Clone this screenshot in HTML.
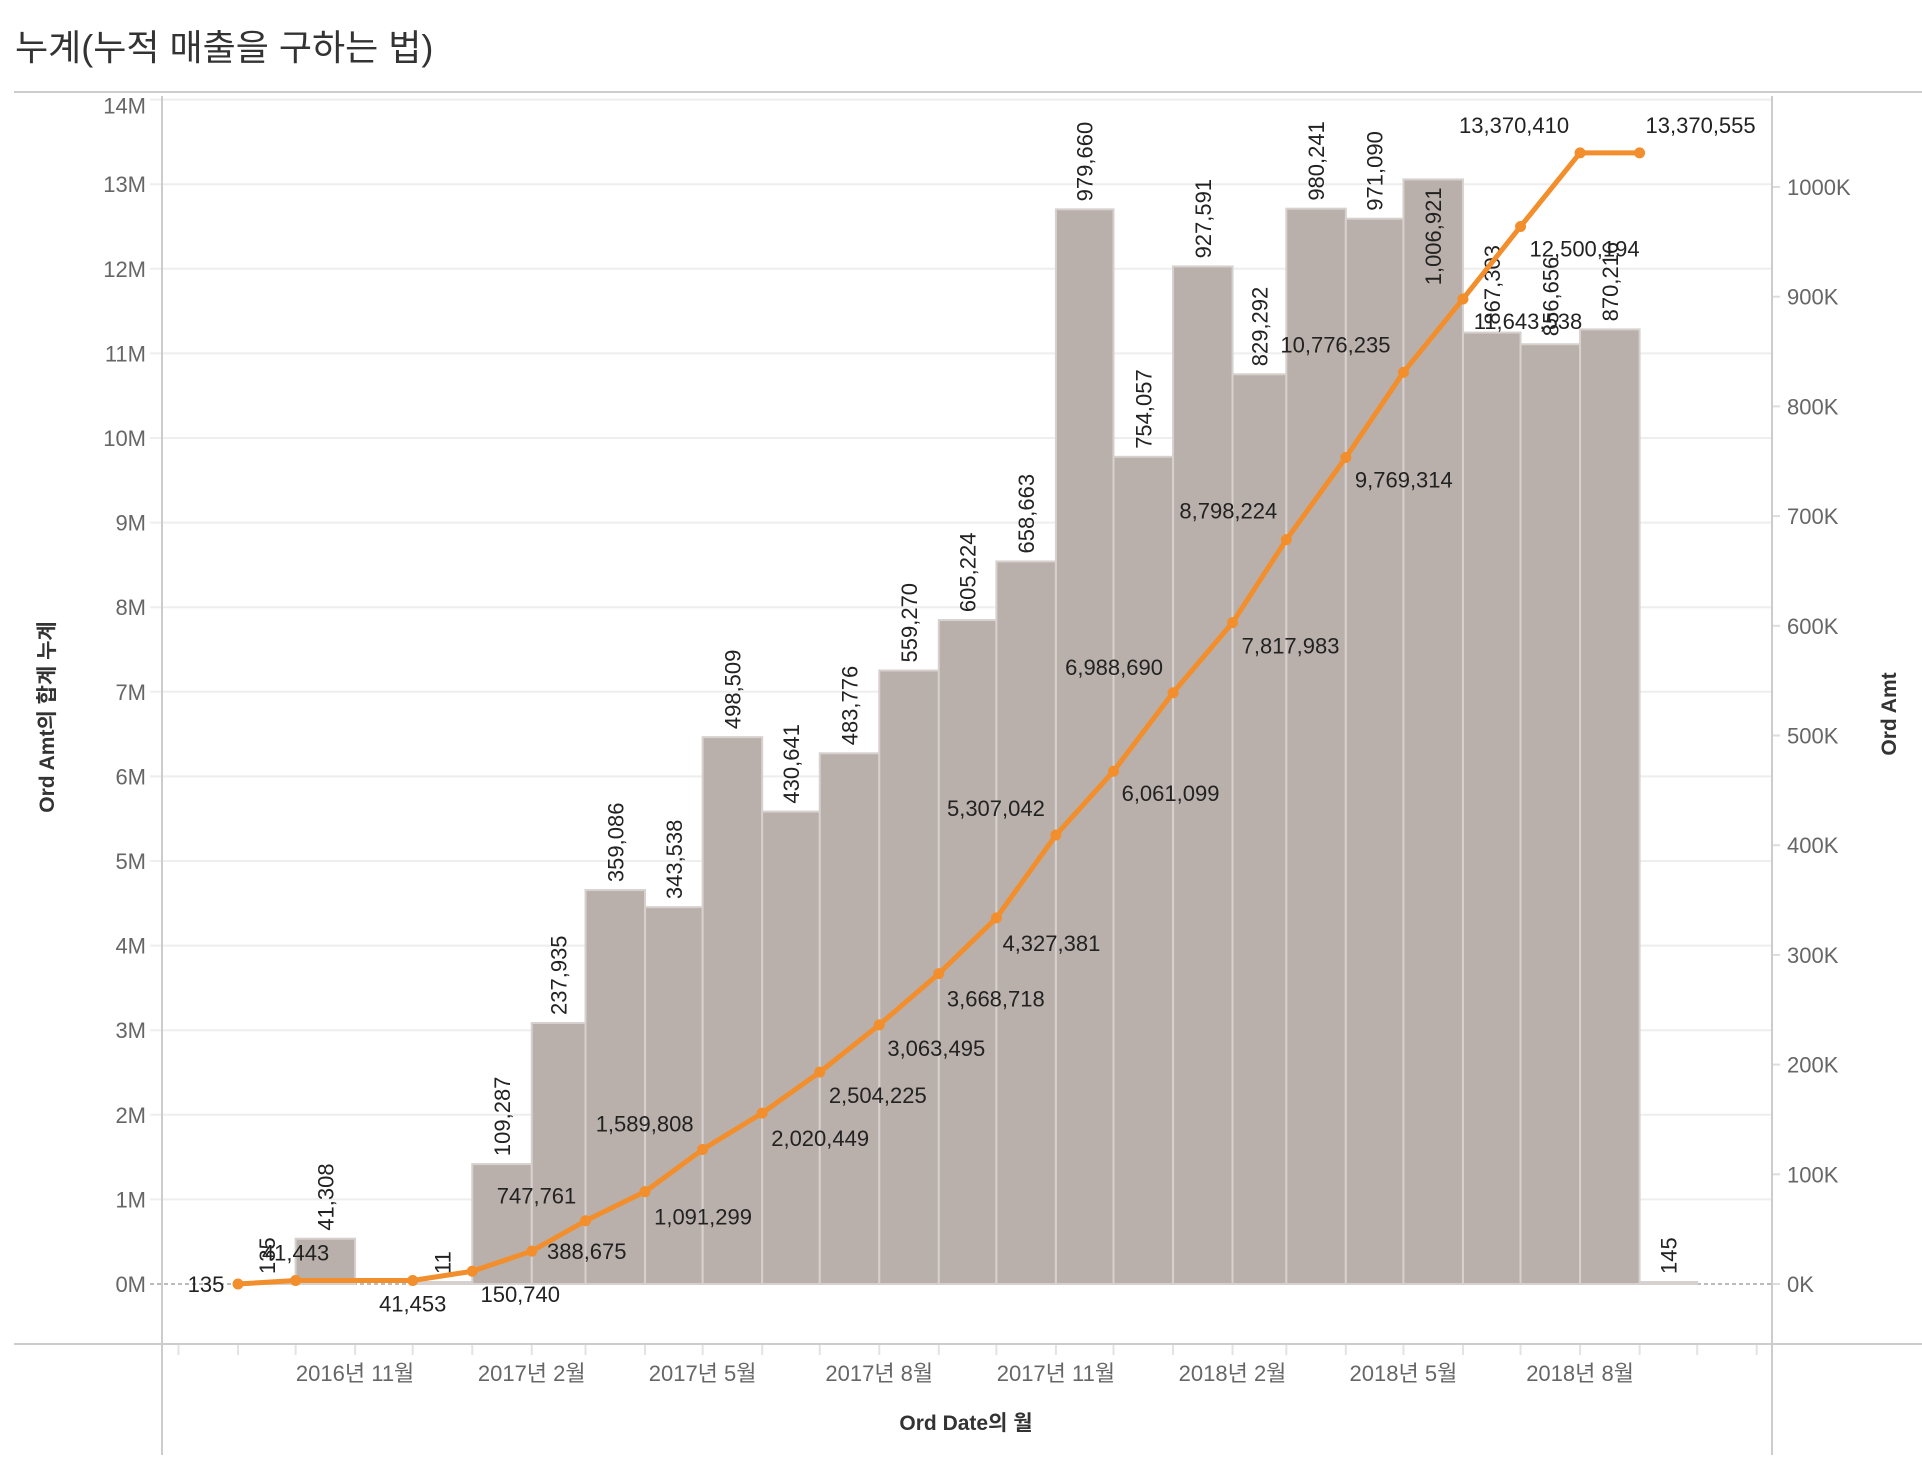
<!DOCTYPE html>
<html><head><meta charset="utf-8"><style>
html,body{margin:0;padding:0;background:#fff;width:1922px;height:1464px;overflow:hidden}
svg{display:block}
text{font-family:"Liberation Sans","Noto Sans CJK KR",sans-serif}
</style></head><body>
<svg id="chart" width="1922" height="1464" viewBox="0 0 1922 1464">
<text x="15" y="60" font-size="36" fill="#333">누계(누적 매출을 구하는 법)</text>
<line x1="14" y1="92" x2="1922" y2="92" stroke="#ccc" stroke-width="2"/>
<g id="grid"></g><g id="bars"></g><g id="barlabels"></g><g id="line"></g><g id="linelabels"></g><g id="axes"></g>
</svg>
<script>
const months = ["2016-09","2016-10","2016-12","2017-01","2017-02","2017-03","2017-04","2017-05","2017-06","2017-07","2017-08","2017-09","2017-10","2017-11","2017-12","2018-01","2018-02","2018-03","2018-04","2018-05","2018-06","2018-07","2018-08","2018-09"];
const ordAmt = [135,41308,11,109287,237935,359086,343538,498509,430641,483776,559270,605224,658663,979660,754057,927591,829292,980241,971090,1006921,867303,856656,870216,145];
const cumLabels = ["135","41,443","41,453","150,740","388,675","747,761","1,091,299","1,589,808","2,020,449","2,504,225","3,063,495","3,668,718","4,327,381","5,307,042","6,061,099","6,988,690","7,817,983","8,798,224","9,769,314","10,776,235","11,643,538","12,500,194","13,370,410","13,370,555"];
const leftTicks = [0,1,2,3,4,5,6,7,8,9,10,11,12,13,14];
const rightTicks = [0,100,200,300,400,500,600,700,800,900,1000];
const xTickLabels = [["2016-11","2016년 11월"],["2017-02","2017년 2월"],["2017-05","2017년 5월"],["2017-08","2017년 8월"],["2017-11","2017년 11월"],["2018-02","2018년 2월"],["2018-05","2018년 5월"],["2018-08","2018년 8월"]];
// label offsets (style)
const lblDx = [-32,0,0,48,55,-49,58,-58,58,58,57,57,55,-60,57,-59,58,-58,58,-68,65,64,-66,61];
const lblDy = [0,-28,23,23,0,-25,25,-26,25,23,23,25,25,-27,22,-26,23,-29,22,-28,22,22,-28,-28];

const NS="http://www.w3.org/2000/svg";
function mk(tag,attrs,parent){const e=document.createElementNS(NS,tag);for(const k in attrs)e.setAttribute(k,attrs[k]);parent.appendChild(e);return e;}
const X0=162,X1=1772,YB=1284;
const base=Date.UTC(2016,8,1);
function xDate(y,m){return 238+(Date.UTC(y,m,1)-base)/86400000*1.92;}
function xM(s){const [y,m]=s.split("-").map(Number);return xDate(y,m-1);}
function xNext(s){const [y,m]=s.split("-").map(Number);return xDate(y,m);}
function yL(v){return YB-v*84.6/1e6;}
function yR(v){return YB-v*1.097/1000;}
const G=id=>document.getElementById(id);

leftTicks.forEach(t=>{
  const y=yL(t*1e6);
  const l=mk("line",{x1:150,x2:X1,y1:y,y2:y,stroke:t===0?"#bbb":"#eeeeee","stroke-width":2},G("grid"));
  if(t===0)l.setAttribute("stroke-dasharray","4,3");
  
  
  const tx=mk("text",{x:146,y:(t===14?y+14:y+8),"text-anchor":"end","font-size":22,fill:"#666"},G("axes"));
  tx.textContent=t+"M";
  
  
});
rightTicks.forEach(t=>{
  const y=yR(t*1000);
  mk("line",{x1:X1,x2:X1+8,y1:y,y2:y,stroke:"#ddd","stroke-width":2},G("axes"));
  const tx=mk("text",{x:1787,y:y+8,"font-size":22,fill:"#666"},G("axes"));
  tx.textContent=t+"K";
  
  
});
mk("line",{x1:X0,x2:X0,y1:96,y2:1455,stroke:"#ccc","stroke-width":2},G("axes"));
mk("line",{x1:X1,x2:X1,y1:96,y2:1455,stroke:"#ccc","stroke-width":2},G("axes"));
mk("line",{x1:14,x2:1922,y1:1344,y2:1344,stroke:"#ccc","stroke-width":2},G("axes"));
for(let i=-1;i<27;i++){const x=xDate(2016,8+i);mk("line",{x1:x,x2:x,y1:1345,y2:1355,stroke:"#e3e3e3","stroke-width":2},G("axes"));}
xTickLabels.forEach(d=>{
  const tx=mk("text",{x:xM(d[0]),y:1381,"text-anchor":"middle","font-size":22,fill:"#666"},G("axes"));
  tx.textContent=d[1];
  
  
});
let t=mk("text",{x:966,y:1430,"text-anchor":"middle","font-size":21,"font-weight":"bold",fill:"#333"},G("axes"));t.textContent="Ord Date의 월";


t=mk("text",{x:0,y:0,"text-anchor":"middle","font-size":21,"font-weight":"bold",fill:"#333",transform:"translate(54,717) rotate(-90)"},G("axes"));t.textContent="Ord Amt의 합계 누계";


t=mk("text",{x:0,y:0,"text-anchor":"middle","font-size":21,"font-weight":"bold",fill:"#333",transform:"translate(1896,714) rotate(-90)"},G("axes"));t.textContent="Ord Amt";



months.forEach((m,i)=>{
  const x0=xM(m),x1=xNext(m),y=yR(ordAmt[i]);
  const r=mk("rect",{x:x0,y:Math.min(y,YB-2),width:x1-x0,height:Math.max(YB-y,2),fill:"#bab0ab",stroke:"#d6d1ce","stroke-width":2},G("bars"));
  
  
  const cx=(x0+x1)/2;
  const label=ordAmt[i].toLocaleString("en-US");
  const top=Math.min(y,YB-2);
  const fits = top-8-label.length*12.5 > 98;
  const tx=mk("text",{x:0,y:0,"font-size":22,fill:"#222","text-anchor":fits?"start":"end",transform:fits?`translate(${cx+8},${top-8}) rotate(-90)`:`translate(${cx+8},${top+8}) rotate(-90)`},G("barlabels"));
  tx.textContent=label;
  
  
});
let cum=0;const pts=[];
months.forEach((m,i)=>{cum+=ordAmt[i];pts.push([xM(m),yL(cum)]);});
const pl=mk("polyline",{points:pts.map(p=>p.join(",")).join(" "),fill:"none",stroke:"#f28e2b","stroke-width":5,"stroke-linejoin":"round"},G("line"));


pts.forEach((p,i)=>{
  const c=mk("circle",{cx:p[0],cy:p[1],r:5.5,fill:"#f28e2b"},G("line"));
  
  
  const tx=mk("text",{x:p[0]+lblDx[i],y:p[1]+lblDy[i]+8,"text-anchor":"middle","font-size":22,fill:"#222"},G("linelabels"));
  tx.textContent=cumLabels[i];
  
  
});
</script>
</body></html>
